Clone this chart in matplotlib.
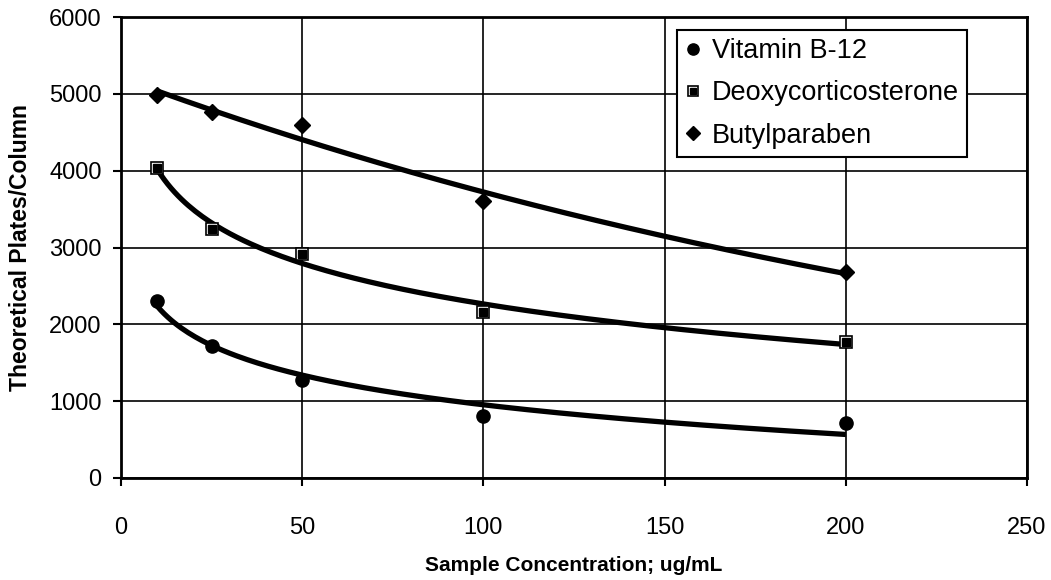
import numpy as np
import matplotlib
matplotlib.use("Agg")
import matplotlib.pyplot as plt
from matplotlib.legend_handler import HandlerTuple

plt.rcParams['font.family'] = ['Liberation Sans', 'DejaVu Sans']

conc = [10, 25, 50, 100, 200]
vitamin = [2300, 1720, 1280, 810, 710]
deoxy = [4040, 3240, 2920, 2160, 1775]
butyl = [4990, 4760, 4590, 3600, 2680]

xticks = [0, 50, 100, 150, 200, 250]
yticks = [0, 1000, 2000, 3000, 4000, 5000, 6000]

x = np.array(conc, dtype=float)
xs = np.linspace(x.min(), x.max(), 200)

# trendlines as excel draws them: log fit for two, exponential for butylparaben
a, b = np.polyfit(np.log(x), vitamin, 1)
vit_fit = a * np.log(xs) + b
a, b = np.polyfit(np.log(x), deoxy, 1)
deo_fit = a * np.log(xs) + b
a, b = np.polyfit(x, np.log(butyl), 1)
but_fit = np.exp(a * xs + b)

fig = plt.figure(figsize=(10.51, 5.80), dpi=100)
ax = fig.add_axes([121/1051, 1 - 478/580, 906/1051, 461/580])

lw = 3.8
ax.plot(xs, vit_fit, color='black', lw=lw, solid_capstyle='butt', zorder=3)
ax.plot(xs, deo_fit, color='black', lw=lw, solid_capstyle='butt', zorder=3)
ax.plot(xs, but_fit, color='black', lw=lw, solid_capstyle='butt', zorder=3)

h1, = ax.plot(conc, vitamin, 'o', color='black', ms=9.5, ls='none', zorder=4)
h2a, = ax.plot(conc, deoxy, 's', mfc='white', mec='black', mew=1.2, ms=8.5, ls='none', zorder=4)
h2b, = ax.plot(conc, deoxy, 's', color='black', ms=5.5, ls='none', zorder=5)
h3, = ax.plot(conc, butyl, 'D', color='black', ms=8, ls='none', zorder=4)

ax.set_xlim(0, 250)
ax.set_ylim(0, 6000)
ax.set_xticks(xticks)
ax.set_yticks(yticks)
ax.grid(True, color='black', lw=1.2)
ax.set_axisbelow(True)
for s in ax.spines.values():
    s.set_linewidth(2)
    s.set_color('black')
ax.tick_params(axis='both', direction='out', length=6, width=1.5, labelsize=17)
ax.tick_params(axis='x', pad=22)
ax.tick_params(axis='y', pad=8)

ax.set_xlabel('Sample Concentration; ug/mL', fontsize=15, fontweight='bold', labelpad=12)
ax.set_ylabel('Theoretical Plates/Column', fontsize=16.5, fontweight='bold', labelpad=12)

leg = ax.legend([h1, (h2a, h2b), h3], ['Vitamin B-12', 'Deoxycorticosterone', 'Butylparaben'],
                handler_map={tuple: HandlerTuple(ndivide=1, pad=0)},
                loc='upper right', bbox_to_anchor=(0.934, 0.972), borderaxespad=0,
                fontsize=19.5, fancybox=False, framealpha=1, edgecolor='black',
                handlelength=0.6, handletextpad=0.4, borderpad=0.3, labelspacing=0.6,
                markerscale=0.85)
leg.get_frame().set_linewidth(1.5)

fig.savefig('out.png', dpi=100)
